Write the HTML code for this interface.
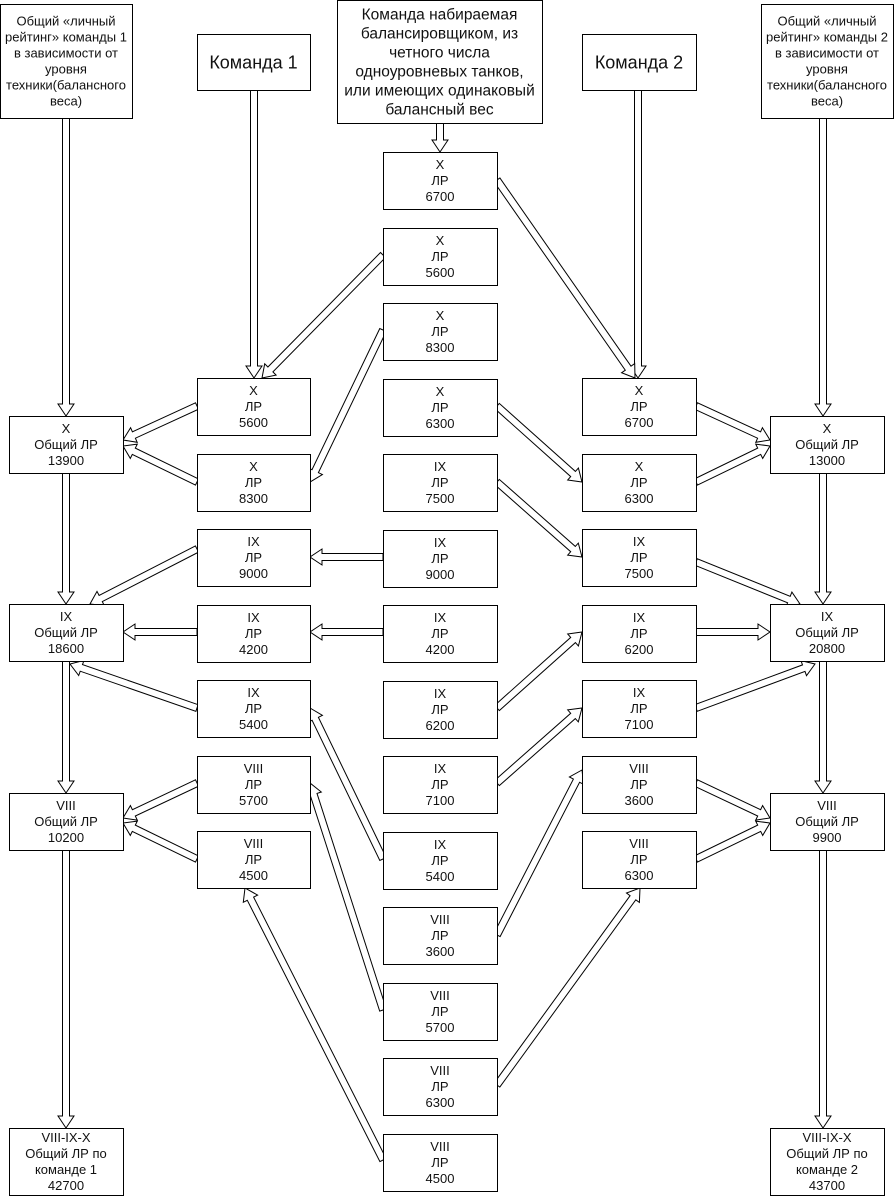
<!DOCTYPE html>
<html><head><meta charset="utf-8"><style>
html,body{margin:0;padding:0;background:#fff;}
svg{display:block;}
text{font-family:"Liberation Sans",sans-serif;fill:#111;}
</style></head><body>
<svg id="s" width="894" height="1196" xmlns="http://www.w3.org/2000/svg"></svg>
<script>
const s=document.getElementById('s');
const NS='http://www.w3.org/2000/svg';
function el(t,a,txt){const e=document.createElementNS(NS,t);for(const k in a)e.setAttribute(k,a[k]);if(txt!=null)e.textContent=txt;s.appendChild(e);return e;}
function arrow(x1,y1,x2,y2){
 const dx=x2-x1,dy=y2-y1,L=Math.hypot(dx,dy),ux=dx/L,uy=dy/L,px=-uy,py=ux;
 const w=3.5,hw=8,hl=12;
 const bx=x2-ux*hl,by=y2-uy*hl;
 const pts=[[x1+px*w,y1+py*w],[bx+px*w,by+py*w],[bx+px*hw,by+py*hw],[x2,y2],[bx-px*hw,by-py*hw],[bx-px*w,by-py*w],[x1-px*w,y1-py*w]];
 el('polygon',{points:pts.map(p=>p[0].toFixed(1)+','+p[1].toFixed(1)).join(' '),fill:'#fff',stroke:'#000','stroke-width':1});
}
function box(x,y,w,h,lines,fs,lh){
 el('rect',{x:x+.5,y:y+.5,width:w,height:h,fill:'#fff',stroke:'#000','stroke-width':1});
 fs=fs||12.5;lh=lh||16;
 const cy=y+h/2-(lines.length-1)*lh/2+fs*0.36;
 lines.forEach((l,i)=>el('text',{x:x+w/2,y:cy+i*lh,'text-anchor':'middle',style:'font-size:'+fs+'px'},l));
}
const A=[
[66,118,66,416],[254,90,254,378],[440,123,440,152],[638,90,638,378],[823,118,823,416],
[497,180,635,378],[383,255,262,378],[383,330,310,482],
[197,406,123,440],[197,482,123,446],
[497,406,582,482],[497,482,582,557],
[696,406,770,440],[696,482,770,446],
[66,473,66,604],[823,473,823,604],
[197,549,90,604],[383,557,310,557],[383,632,310,632],[197,632,123,632],
[696,632,770,632],[696,562,800,604],
[197,708,70,664],[696,708,815,664],
[497,708,582,632],[497,783,582,708],[383,859,310,708],
[66,661,66,793],[823,661,823,793],
[197,783,123,818],[197,859,123,823],
[497,935,582,770],[696,783,770,818],[696,859,770,823],
[383,1010,310,783],[497,1085,640,888],[383,1160,245,888],
[66,850,66,1128],[823,850,823,1128]
];
A.forEach(a=>arrow(...a));
box(0,4,132,114,['Общий «личный','рейтинг» команды 1','в зависимости от','уровня','техники(балансного','веса)'],13,16);
box(761,4,132,114,['Общий «личный','рейтинг» команды 2','в зависимости от','уровня','техники(балансного','веса)'],13,16);
box(197,34,113,56,['Команда 1'],18);
box(582,34,114,56,['Команда 2'],18);
box(337,0,205,123,['Команда набираемая','балансировщиком, из','четного числа','одноуровневых танков,','или имеющих одинаковый','балансный вес'],15.5,19);
const C=[['X','6700'],['X','5600'],['X','8300'],['X','6300'],['IX','7500'],['IX','9000'],['IX','4200'],['IX','6200'],['IX','7100'],['IX','5400'],['VIII','3600'],['VIII','5700'],['VIII','6300'],['VIII','4500']];
C.forEach((c,i)=>box(383,152+Math.round(i*75.5),114,57,[c[0],'ЛР',c[1]],13));
const LM=[['X','5600'],['X','8300'],['IX','9000'],['IX','4200'],['IX','5400'],['VIII','5700'],['VIII','4500']];
LM.forEach((c,i)=>box(197,378+Math.round(i*75.5),113,57,[c[0],'ЛР',c[1]],13));
const RM=[['X','6700'],['X','6300'],['IX','7500'],['IX','6200'],['IX','7100'],['VIII','3600'],['VIII','6300']];
RM.forEach((c,i)=>box(582,378+Math.round(i*75.5),114,57,[c[0],'ЛР',c[1]],13));
box(9,416,114,57,['X','Общий ЛР','13900'],13);
box(9,604,114,57,['IX','Общий ЛР','18600'],13);
box(9,793,114,57,['VIII','Общий ЛР','10200'],13);
box(9,1128,114,67,['VIII-IX-X','Общий ЛР по','команде 1','42700'],13);
box(770,416,114,57,['X','Общий ЛР','13000'],13);
box(770,604,114,57,['IX','Общий ЛР','20800'],13);
box(770,793,114,57,['VIII','Общий ЛР','9900'],13);
box(770,1128,114,67,['VIII-IX-X','Общий ЛР по','команде 2','43700'],13);
</script>
</body></html>
